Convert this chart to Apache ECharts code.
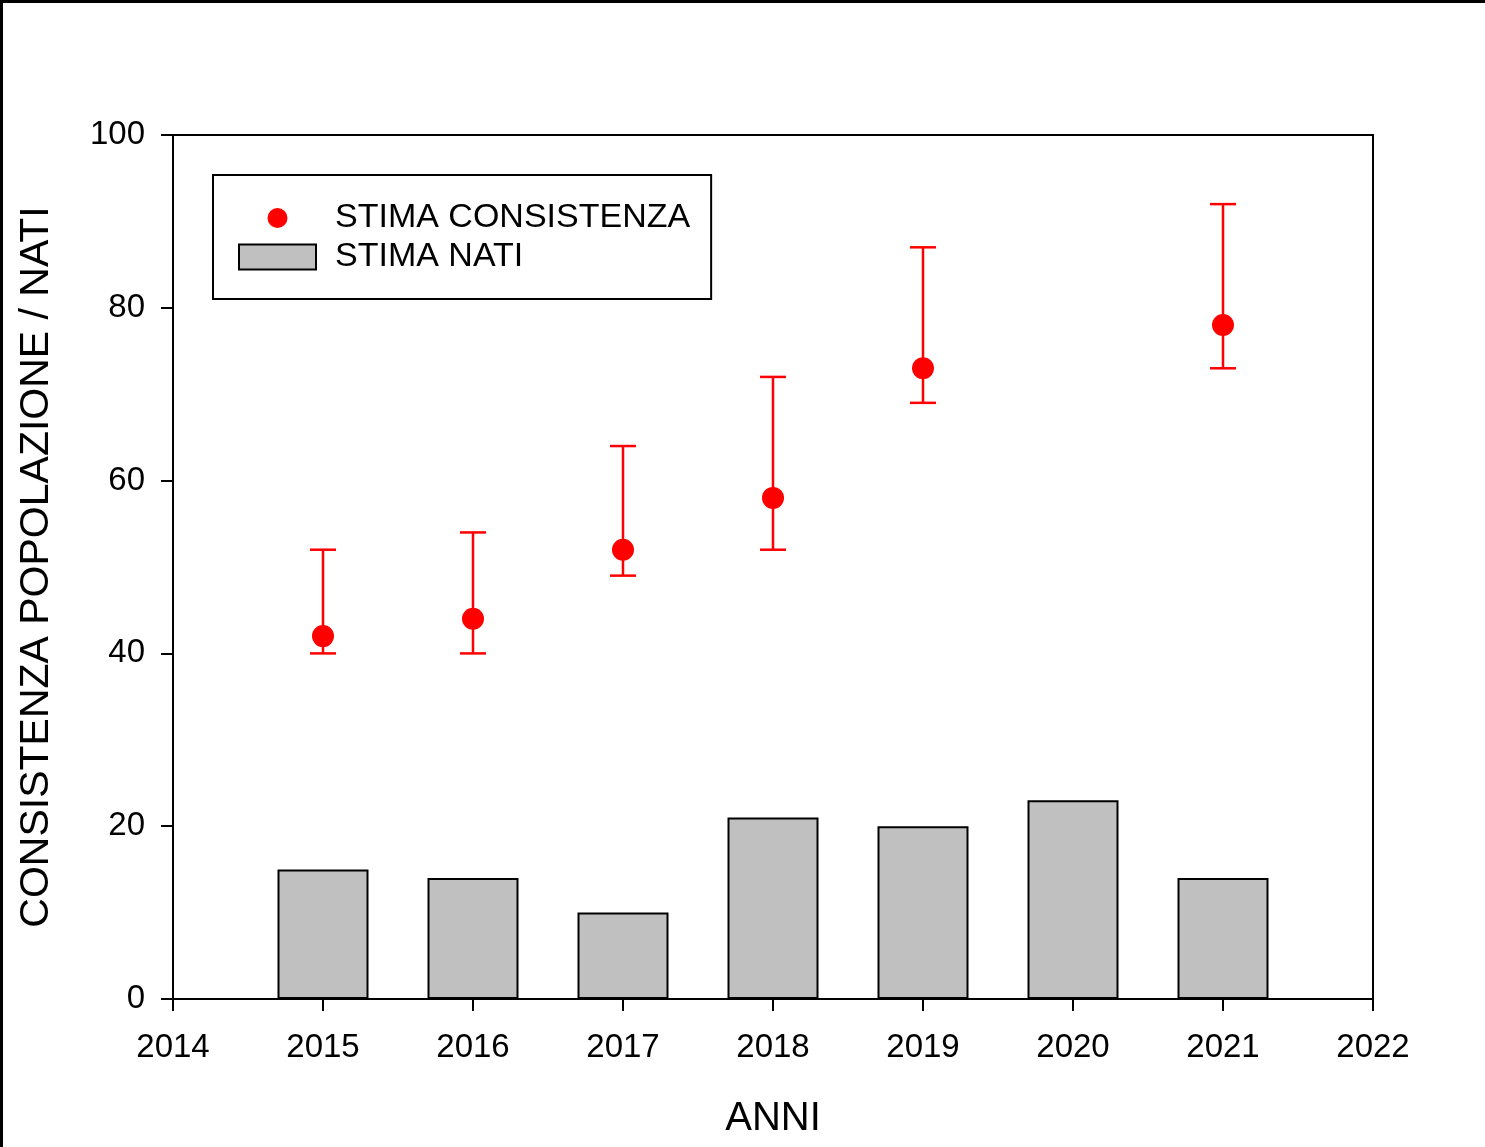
<!DOCTYPE html>
<html>
<head>
<meta charset="utf-8">
<script src="https://cdn.jsdelivr.net/npm/echarts@6/dist/echarts.min.js"></script>
<style>
html,body{margin:0;padding:0;background:#fff;}
#wrap{position:relative;width:1485px;height:1147px;overflow:hidden;}
#chart{position:absolute;left:0;top:0;width:1485px;height:1147px;}
.bt{position:absolute;left:0;top:0;width:1485px;height:3px;background:#000;}
.bl{position:absolute;left:0;top:0;width:3px;height:1147px;background:#000;}
</style>
</head>
<body>
<div id="wrap"><div id="chart"></div><div class="bt"></div><div class="bl"></div></div>
<script>
// Data
const barYears = [2015, 2016, 2017, 2018, 2019, 2020, 2021];
const natiValues = [15, 14, 10, 21, 20, 23, 14];
const pointYears = [2015, 2016, 2017, 2018, 2019, 2021];
const stimaValues = [42, 44, 52, 58, 73, 78];
const stimaLow = [40, 40, 49, 52, 69, 73];
const stimaHigh = [52, 54, 64, 72, 87, 92];
const seriesNames = ['STIMA CONSISTENZA', 'STIMA NATI'];
const xTitle = 'ANNI';
const yTitle = 'CONSISTENZA POPOLAZIONE / NATI';

const FONT = '"Liberation Sans", Arial, sans-serif';
const chart = echarts.init(document.getElementById('chart'));

const barData = barYears.map((y, i) => [y, natiValues[i]]);
const pointData = pointYears.map((y, i) => [y, stimaValues[i]]);
const errData = pointYears.map((y, i) => [y, stimaLow[i], stimaHigh[i]]);

chart.setOption({
  animation: false,
  backgroundColor: '#fff',
  grid: {left: 173, top: 135, right: 112, bottom: 148, show: true, borderColor: '#000', borderWidth: 2, backgroundColor: 'transparent'},
  legend: {
    left: 213, top: 175, orient: 'vertical',
    borderColor: '#000', borderWidth: 2,
    padding: [26, 21, 25, 25],
    itemWidth: 77, itemHeight: 25, itemGap: 5,
    textStyle: {fontFamily: FONT, fontSize: 34, color: '#000', lineHeight: 33, padding: [0, 0, 0, 14]},
    data: [
      {name: seriesNames[0], icon: 'path://M0,0 M25,25 M22.5,12.5 A10,10 0 1,1 2.5,12.5 A10,10 0 1,1 22.5,12.5 Z'},
      {name: seriesNames[1], icon: 'rect'}
    ]
  },
  xAxis: {
    type: 'value', min: 2014, max: 2022, interval: 1,
    name: xTitle, nameLocation: 'middle', nameGap: 100,
    nameTextStyle: {fontFamily: FONT, fontSize: 40, color: '#000'},
    axisLine: {lineStyle: {color: '#000', width: 2}},
    axisTick: {show: true, length: 12, lineStyle: {color: '#000', width: 2}},
    axisLabel: {fontFamily: FONT, fontSize: 33, color: '#000', margin: 32, formatter: v => String(v)},
    splitLine: {show: false}
  },
  yAxis: {
    type: 'value', min: 0, max: 100, interval: 20,
    name: yTitle, nameLocation: 'middle', nameGap: 116,
    nameTextStyle: {fontFamily: FONT, fontSize: 41, color: '#000'},
    axisLine: {show: true, lineStyle: {color: '#000', width: 2}},
    axisTick: {show: true, length: 12, lineStyle: {color: '#000', width: 2}},
    axisLabel: {fontFamily: FONT, fontSize: 33, color: '#000', margin: 28},
    splitLine: {show: false}
  },
  series: [
    {
      name: seriesNames[1], type: 'bar', data: barData, barWidth: 91,
      itemStyle: {color: '#c0c0c0', borderColor: '#000', borderWidth: 2}
    },
    {
      name: 'err', type: 'custom', data: errData, z: 3,
      renderItem: function (params, api) {
        const x = api.value(0);
        const lo = api.coord([x, api.value(1)]);
        const hi = api.coord([x, api.value(2)]);
        const hw = 13;
        const st = {stroke: '#ff0000', lineWidth: 2.5};
        return {type: 'group', children: [
          {type: 'line', shape: {x1: lo[0], y1: lo[1], x2: hi[0], y2: hi[1]}, style: st},
          {type: 'line', shape: {x1: lo[0] - hw, y1: lo[1], x2: lo[0] + hw, y2: lo[1]}, style: st},
          {type: 'line', shape: {x1: hi[0] - hw, y1: hi[1], x2: hi[0] + hw, y2: hi[1]}, style: st}
        ]};
      }
    },
    {
      name: seriesNames[0], type: 'scatter', data: pointData, symbol: 'circle', symbolSize: 22, z: 4,
      itemStyle: {color: '#ff0000', opacity: 1}
    }
  ]
});
</script>
</body>
</html>
